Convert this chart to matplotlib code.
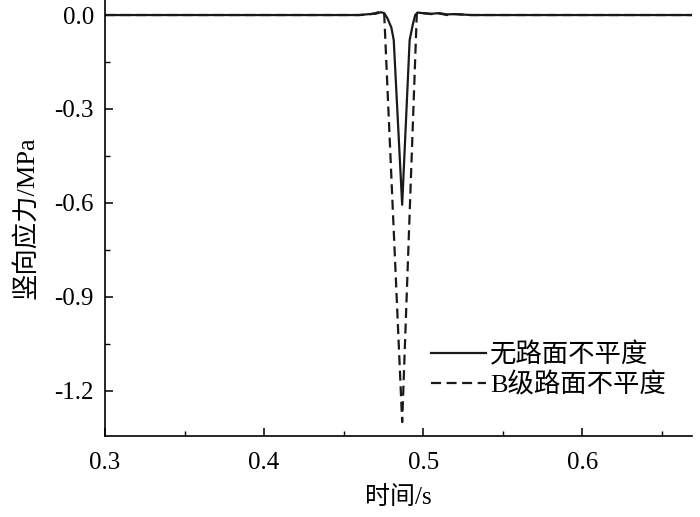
import matplotlib
matplotlib.use("Agg")
import matplotlib.pyplot as plt

plt.rcParams['font.family'] = ['Liberation Serif', 'Noto Sans CJK SC']
plt.rcParams['axes.unicode_minus'] = False

# 无路面不平度
t_smooth = [0.30, 0.40, 0.45, 0.460, 0.466, 0.470, 0.4735, 0.4755, 0.4775,
            0.4800, 0.4815, 0.4868, 0.4915, 0.4935, 0.4950, 0.4965, 0.500,
            0.505, 0.510, 0.515, 0.520, 0.530, 0.55, 0.60, 0.67]
s_smooth = [0.0, 0.0, 0.0, 0.0, 0.003, 0.004, 0.009, 0.006, -0.01,
            -0.04, -0.08, -0.606, -0.08, -0.03, 0.0, 0.008, 0.006,
            0.004, 0.006, 0.002, 0.003, 0.0, 0.0, 0.0, 0.0]

# B级路面不平度
t_rough = [0.30, 0.40, 0.45, 0.460, 0.466, 0.470, 0.4735, 0.4755, 0.4868,
           0.4960, 0.4975, 0.500, 0.505, 0.510, 0.515, 0.520, 0.530,
           0.55, 0.60, 0.67]
s_rough = [0.0, 0.0, 0.0, 0.0, 0.002, 0.006, 0.012, 0.004, -1.30,
           0.004, 0.010, 0.006, 0.003, 0.005, 0.0, 0.003, 0.0,
           0.0, 0.0, 0.0]

fig = plt.figure(figsize=(7.0, 5.17), dpi=100)
ax = fig.add_axes([0.15, 0.157, 0.8386, 0.843])

ax.plot(t_smooth, s_smooth, color='#1a1a1a', lw=1.6, ls='-', label='无路面不平度')
ax.plot(t_rough, s_rough, color='#1a1a1a', lw=1.6, ls=(0, (4.5, 2.5)), label='B级路面不平度')

ax.set_xlim(0.3, 0.669)
ax.set_ylim(-1.344, 0.048)
ax.set_xticks([0.3, 0.4, 0.5, 0.6])
ax.set_xticks([0.35, 0.45, 0.55, 0.65], minor=True)
ax.set_yticks([0.0, -0.3, -0.6, -0.9, -1.2])
ax.set_yticks([0.15 - 0.3 * i for i in range(1, 5)], minor=True)
ax.set_xticklabels(['0.3', '0.4', '0.5', '0.6'])
ax.set_yticklabels(['0.0', '-0.3', '-0.6', '-0.9', '-1.2'])

ax.spines['top'].set_visible(False)
ax.spines['right'].set_visible(False)
ax.spines['left'].set_linewidth(1.2)
ax.spines['bottom'].set_linewidth(1.2)
ax.tick_params(direction='in', which='major', length=6, width=1.1, labelsize=18)
ax.tick_params(axis='y', which='major', pad=8)
ax.tick_params(axis='x', which='major', pad=12)
ax.tick_params(direction='in', which='minor', length=3.5, width=1.0)

ax.set_xlabel('时间/s', fontsize=18, labelpad=8)
ax.set_ylabel('竖向应力/MPa', fontsize=19, labelpad=12)

ax.legend(loc='upper left', bbox_to_anchor=(0.515, 0.27), frameon=False,
          fontsize=19, handlelength=2.1, handletextpad=0.15, labelspacing=0.2)

fig.savefig('out.png', dpi=100)
